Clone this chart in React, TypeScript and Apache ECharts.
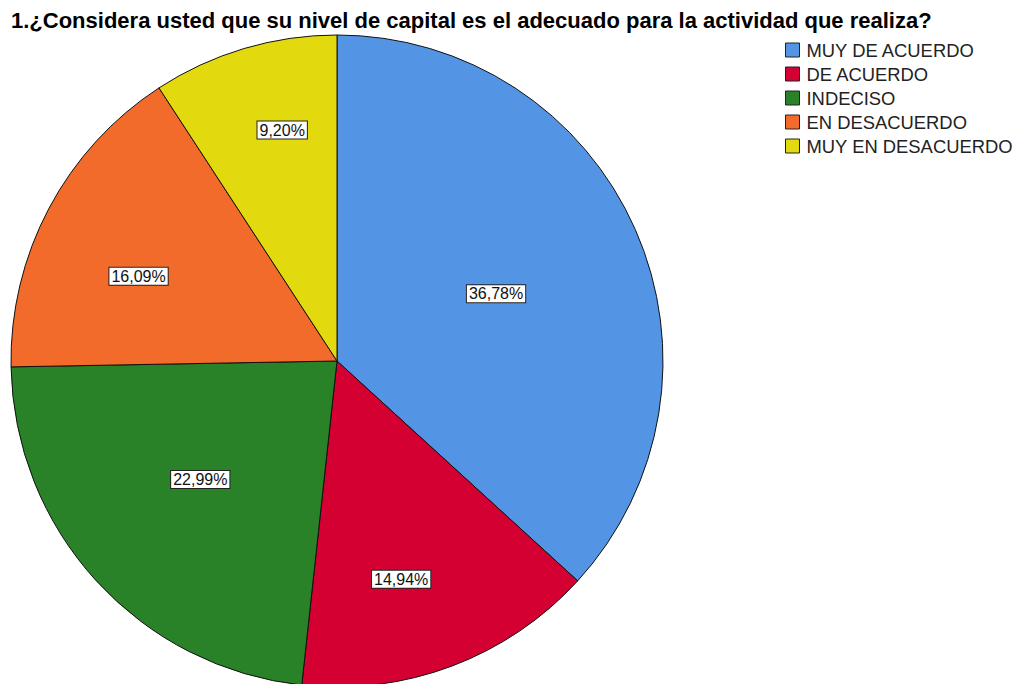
import React, { useEffect, useRef } from "react";
import * as echarts from "echarts";

const titleText = "1.¿Considera usted que su nivel de capital es el adecuado para la actividad que realiza?";
const categories = ["MUY DE ACUERDO", "DE ACUERDO", "INDECISO", "EN DESACUERDO", "MUY EN DESACUERDO"];
const counts = [32, 13, 20, 14, 8];
const colors = ["#5494E5", "#D50032", "#2A8228", "#F26B2B", "#E3D90F"];
// label placement relative to the default inside position (half radius, mid angle)
const labelRadiusFactors = [1.04, 1.37, 1.09, 1.3, 1.43];
const labelAngleShiftDeg = [0.9, 4.3, 1.5, -4.8, 3.2];

const CX = 337;
const CY = 361;
const R = 326;

export default function App() {
  const ref = useRef<HTMLDivElement>(null);
  useEffect(() => {
    if (!ref.current) return;
    const chart = echarts.init(ref.current, null, { renderer: "svg" });
    const total = counts.reduce((a, b) => a + b, 0);
    chart.setOption({
      animation: false,
      backgroundColor: "#ffffff",
      title: {
        text: titleText,
        left: 6,
        top: 3,
        textStyle: {
          fontFamily: "Liberation Sans, Arial, sans-serif",
          fontWeight: "bold",
          fontSize: 22,
          lineHeight: 24,
          color: "#000",
        },
      },
      legend: {
        orient: "vertical",
        left: 785,
        top: 41,
        padding: 0,
        itemWidth: 14,
        itemHeight: 14,
        itemGap: 6,
        icon: "rect",
        data: categories,
        textStyle: {
          fontFamily: "Liberation Sans, Arial, sans-serif",
          fontSize: 18.4,
          lineHeight: 18,
          color: "#222",
          padding: [0, 0, 0, 2],
        },
        itemStyle: { borderColor: "#222", borderWidth: 1 },
      },
      series: [
        {
          type: "pie",
          center: [CX, CY],
          radius: R,
          startAngle: 90,
          clockwise: true,
          silent: true,
          data: categories.map((name, i) => ({
            name,
            value: counts[i],
            itemStyle: { color: colors[i] },
          })),
          itemStyle: { borderColor: "#111", borderWidth: 1 },
          label: {
            show: true,
            position: "inside",
            formatter: (p: any) => ((p.value / total) * 100).toFixed(2).replace(".", ",") + "%",
            fontFamily: "Liberation Sans, Arial, sans-serif",
            fontSize: 16,
            lineHeight: 16,
            color: "#111",
            backgroundColor: "#fff",
            borderColor: "#222",
            borderWidth: 1,
            padding: [1, 2, 0, 2],
          },
          labelLine: { show: false },
          labelLayout: (params: any) => {
            const r = params.labelRect;
            const vx = r.x + r.width / 2 - CX;
            const vy = r.y + r.height / 2 - CY;
            const i = params.dataIndex;
            const a = (labelAngleShiftDeg[i] * Math.PI) / 180;
            const k = labelRadiusFactors[i];
            const nx = (vx * Math.cos(a) - vy * Math.sin(a)) * k;
            const ny = (vx * Math.sin(a) + vy * Math.cos(a)) * k;
            return { dx: nx - vx, dy: ny - vy };
          },
        },
      ],
    });
    return () => chart.dispose();
  }, []);
  return <div ref={ref} style={{ position: "fixed", left: 0, top: 0, width: 1022, height: 684 }} />;
}
